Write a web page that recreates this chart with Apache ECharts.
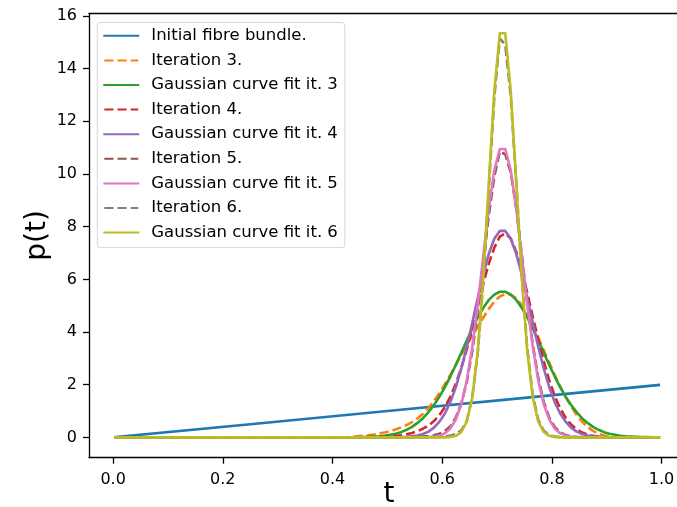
<!DOCTYPE html>
<html>
<head>
<meta charset="utf-8">
<script src="https://cdn.jsdelivr.net/npm/echarts@6/dist/echarts.min.js"></script>
<style>
html,body{margin:0;padding:0;background:#fff;}
#chart{width:677px;height:507px;}
</style>
</head>
<body>
<div id="chart"></div>
<script>
// ---- data ----
const seriesNames = ['Initial fibre bundle.', 'Iteration 3.', 'Gaussian curve fit it. 3',
  'Iteration 4.', 'Gaussian curve fit it. 4', 'Iteration 5.', 'Gaussian curve fit it. 5',
  'Iteration 6.', 'Gaussian curve fit it. 6'];
const xTicks = [0, 0.2, 0.4, 0.6, 0.8, 1.0];
const yTicks = [0, 2, 4, 6, 8, 10, 12, 14, 16];

const tBlue = [0.005, 0.255, 0.505, 0.755, 0.995];
const pBlue = [0.01, 0.51, 1.01, 1.51, 1.99];

const tGrid = [0.005, 0.425, 0.435, 0.445, 0.455, 0.465, 0.475, 0.485, 0.495, 0.505,
  0.515, 0.525, 0.535, 0.545, 0.555, 0.565, 0.575, 0.585, 0.595, 0.605,
  0.615, 0.625, 0.635, 0.645, 0.655, 0.665, 0.675, 0.685, 0.695, 0.705,
  0.715, 0.725, 0.735, 0.745, 0.755, 0.765, 0.775, 0.785, 0.795, 0.805,
  0.815, 0.825, 0.835, 0.845, 0.855, 0.865, 0.875, 0.885, 0.895, 0.905,
  0.915, 0.925, 0.935, 0.945, 0.955, 0.965, 0.975, 0.995];

const iter3 = [0, 0, 0.02, 0.04, 0.06, 0.08, 0.11, 0.15, 0.19, 0.24,
  0.30, 0.38, 0.47, 0.58, 0.72, 0.90, 1.12, 1.38, 1.68, 2.02,
  2.38, 2.76, 3.14, 3.52, 3.88, 4.22, 4.55, 4.88, 5.15, 5.35,
  5.45, 5.42, 5.28, 5.02, 4.68, 4.26, 3.80, 3.32, 2.84, 2.38,
  1.94, 1.54, 1.18, 0.86, 0.60, 0.40, 0.25, 0.14, 0.07, 0.03,
  0.01, 0, 0, 0, 0, 0, 0, 0];
const fit3 = [0, 0, 0, 0.01, 0.01, 0.02, 0.03, 0.04, 0.06, 0.10,
  0.14, 0.20, 0.29, 0.40, 0.55, 0.73, 0.96, 1.23, 1.55, 1.91,
  2.32, 2.76, 3.22, 3.69, 4.14, 4.56, 4.92, 5.22, 5.42, 5.53,
  5.53, 5.42, 5.22, 4.92, 4.56, 4.14, 3.69, 3.22, 2.76, 2.32,
  1.91, 1.55, 1.23, 0.96, 0.73, 0.55, 0.40, 0.29, 0.20, 0.14,
  0.10, 0.06, 0.04, 0.03, 0.02, 0.01, 0.01, 0];
const iter4 = [0, 0, 0, 0, 0, 0, 0, 0.01, 0.02, 0.03,
  0.05, 0.08, 0.12, 0.17, 0.24, 0.33, 0.45, 0.62, 0.85, 1.15,
  1.55, 2.05, 2.65, 3.35, 4.15, 5.00, 5.85, 6.60, 7.20, 7.62,
  7.75, 7.55, 7.05, 6.35, 5.50, 4.60, 3.72, 2.90, 2.18, 1.58,
  1.10, 0.75, 0.49, 0.31, 0.19, 0.11, 0.06, 0.03, 0.01, 0,
  0, 0, 0, 0, 0, 0, 0, 0];
const fit4 = [0, 0, 0, 0, 0, 0, 0, 0, 0, 0,
  0, 0.01, 0.02, 0.04, 0.07, 0.13, 0.22, 0.37, 0.60, 0.91,
  1.35, 1.92, 2.63, 3.45, 4.36, 5.31, 6.20, 6.97, 7.54, 7.84,
  7.84, 7.54, 6.97, 6.20, 5.31, 4.36, 3.45, 2.63, 1.92, 1.35,
  0.91, 0.60, 0.37, 0.22, 0.13, 0.07, 0.04, 0.02, 0.01, 0,
  0, 0, 0, 0, 0, 0, 0, 0];
const iter5 = [0, 0, 0, 0, 0, 0, 0, 0, 0, 0,
  0, 0, 0, 0.01, 0.02, 0.03, 0.05, 0.08, 0.14, 0.24,
  0.42, 0.76, 1.30, 2.12, 3.30, 4.85, 6.65, 8.45, 9.90, 10.85,
  10.75, 10.05, 8.70, 6.95, 5.15, 3.55, 2.28, 1.36, 0.76, 0.40,
  0.20, 0.09, 0.04, 0.02, 0.01, 0, 0, 0, 0, 0,
  0, 0, 0, 0, 0, 0, 0, 0];
const fit5 = [0, 0, 0, 0, 0, 0, 0, 0, 0, 0,
  0, 0, 0, 0, 0, 0, 0.01, 0.03, 0.07, 0.16,
  0.34, 0.69, 1.27, 2.18, 3.46, 5.08, 6.91, 8.70, 10.14, 10.95,
  10.95, 10.14, 8.70, 6.91, 5.08, 3.46, 2.18, 1.27, 0.69, 0.34,
  0.16, 0.07, 0.03, 0.01, 0, 0, 0, 0, 0, 0,
  0, 0, 0, 0, 0, 0, 0, 0];
const iter6 = [0, 0, 0, 0, 0, 0, 0, 0, 0, 0,
  0, 0, 0, 0, 0, 0, 0, 0.01, 0.02, 0.04,
  0.07, 0.13, 0.27, 0.65, 1.55, 3.25, 5.95, 9.45, 12.90, 15.15,
  14.90, 12.95, 9.70, 6.20, 3.40, 1.62, 0.68, 0.26, 0.09, 0.03,
  0.01, 0, 0, 0, 0, 0, 0, 0, 0, 0,
  0, 0, 0, 0, 0, 0, 0, 0];
const fit6 = [0, 0, 0, 0, 0, 0, 0, 0, 0, 0,
  0, 0, 0, 0, 0, 0, 0, 0, 0, 0,
  0.02, 0.06, 0.21, 0.61, 1.53, 3.30, 6.10, 9.67, 13.15, 15.34,
  15.34, 13.15, 9.67, 6.10, 3.30, 1.53, 0.61, 0.21, 0.06, 0.02,
  0, 0, 0, 0, 0, 0, 0, 0, 0, 0,
  0, 0, 0, 0, 0, 0, 0, 0];

const colors = ['#1f77b4', '#ff7f0e', '#2ca02c', '#d62728', '#9467bd', '#8c564b', '#e377c2', '#7f7f7f', '#bcbd22'];
const dashed = [false, true, false, true, false, true, false, true, false];

// ---- build chart ----
const FONT = 'DejaVu Sans';
function pairs(xs, ys) { return xs.map((x, i) => [x, ys[i]]); }
const ySets = [null, iter3, fit3, iter4, fit4, iter5, fit5, iter6, fit6];

const series = seriesNames.map((name, i) => ({
  name: name,
  type: 'line',
  data: i === 0 ? pairs(tBlue, pBlue) : pairs(tGrid, ySets[i]),
  symbol: 'none',
  showSymbol: false,
  smooth: false,
  silent: true,
  lineStyle: {
    color: colors[i],
    width: 2.6,
    type: dashed[i] ? [9.2, 4] : 'solid',
    cap: dashed[i] ? 'butt' : 'square',
    join: 'round'
  },
  itemStyle: { color: colors[i] },
  z: 2 + i
}));

const spine = { color: '#000', width: 1.3 };
const chart = echarts.init(document.getElementById('chart'), null, { renderer: 'canvas' });
chart.setOption({
  animation: false,
  backgroundColor: '#fff',
  grid: {
    left: 89, top: 13.3, width: 600, height: 444.4,
    outerBoundsMode: 'none', containLabel: false, show: false
  },
  legend: {
    data: seriesNames,
    orient: 'vertical',
    left: 97.3, top: 22.5,
    itemWidth: 34, itemHeight: 12, itemGap: 6.6,
    padding: [4.3, 7, 6, 6],
    backgroundColor: 'rgba(255,255,255,0.8)',
    borderColor: '#d6d6d6', borderWidth: 1, borderRadius: 3,
    selectedMode: false,
    itemStyle: { opacity: 0 },
    textStyle: { fontFamily: FONT, fontSize: 16.5, color: '#000', lineHeight: 18, padding: [0, 0, 0, 8] }
  },
  xAxis: [{
    type: 'value', min: -0.044, max: 1.05, position: 'bottom',
    name: 't', nameLocation: 'middle', nameGap: 23, nameMoveOverlap: false,
    nameTextStyle: { fontFamily: FONT, fontSize: 28, color: '#000' },
    axisLine: { show: true, onZero: false, lineStyle: spine },
    axisTick: { show: true, length: 6, customValues: xTicks, lineStyle: spine },
    axisLabel: { customValues: xTicks, margin: 14, fontFamily: FONT, fontSize: 16, color: '#000',
      formatter: v => Number(v).toFixed(1) },
    splitLine: { show: false }
  }, {
    type: 'value', min: -0.044, max: 1.05, position: 'top',
    axisLine: { show: true, onZero: false, lineStyle: spine },
    axisTick: { show: false }, axisLabel: { show: false }, splitLine: { show: false }
  }],
  yAxis: {
    type: 'value', min: -0.77, max: 16.1,
    name: 'p(t)', nameLocation: 'middle', nameGap: 37, nameRotate: 90, nameMoveOverlap: false,
    nameTextStyle: { fontFamily: FONT, fontSize: 28, color: '#000' },
    axisLine: { show: true, onZero: false, lineStyle: spine },
    axisTick: { show: true, length: 6, customValues: yTicks, lineStyle: spine },
    axisLabel: { customValues: yTicks, margin: 12, fontFamily: FONT, fontSize: 16, color: '#000',
      formatter: v => String(Math.round(v)) },
    splitLine: { show: false }
  },
  series: series
});
</script>
</body>
</html>
